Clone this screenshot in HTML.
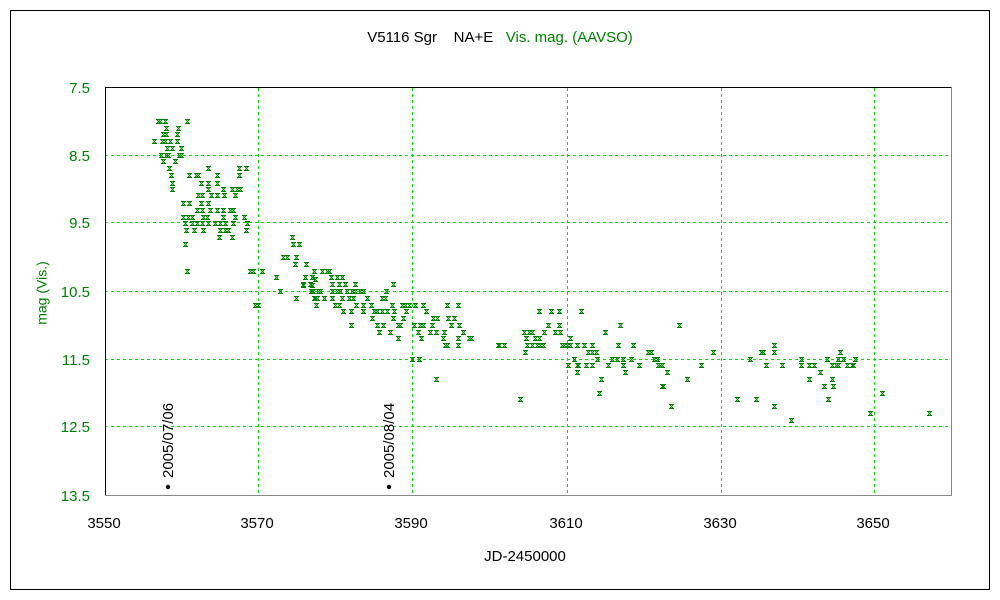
<!DOCTYPE html>
<html><head><meta charset="utf-8"><style>
body{margin:0;background:#fff;}
svg{display:block;font-family:"Liberation Sans",sans-serif;}
</style></head><body>
<svg id="s" width="1000" height="600" xmlns="http://www.w3.org/2000/svg">
<rect x="10.5" y="10.5" width="979" height="579" fill="none" stroke="#000"/>
<text x="500" y="42" text-anchor="middle" font-size="15" fill="#000">V5116 Sgr &#160;&#160; NA+E &#160;&#160;<tspan fill="#008000">Vis. mag. (AAVSO)</tspan></text>
<g stroke-dasharray="3,3" stroke-width="1" stroke="#00e000">
<line x1="105" y1="155.5" x2="951" y2="155.5"/>
<line x1="105" y1="222.5" x2="951" y2="222.5"/>
<line x1="105" y1="291.5" x2="951" y2="291.5"/>
<line x1="105" y1="359.5" x2="951" y2="359.5"/>
<line x1="105" y1="426.5" x2="951" y2="426.5"/>
<line x1="258.5" y1="88" x2="258.5" y2="495"/>
<line x1="412.5" y1="88" x2="412.5" y2="495"/>
<line x1="567.5" y1="88" x2="567.5" y2="495"/>
<line x1="721.5" y1="88" x2="721.5" y2="495"/>
<line x1="874.5" y1="88" x2="874.5" y2="495"/>
</g>
<path d="M105.5,495 V87.5 H951" fill="none" stroke="#000"/>
<path d="M951.5,87 V495.5 H105" fill="none" stroke="#888"/>
<g fill="#008000" font-size="15" text-anchor="end">
<text x="90" y="93">7.5</text><text x="90" y="161">8.5</text><text x="90" y="228">9.5</text>
<text x="90" y="297">10.5</text><text x="90" y="365">11.5</text><text x="90" y="432">12.5</text><text x="90" y="501">13.5</text>
</g>
<text x="43" y="293" fill="#008000" font-size="14" text-anchor="middle" dominant-baseline="middle" transform="rotate(-90 43 293)">mag (Vis.)</text>
<g font-size="15" text-anchor="middle" fill="#000">
<text x="104" y="528">3550</text><text x="257" y="528">3570</text><text x="411" y="528">3590</text>
<text x="566" y="528">3610</text><text x="720" y="528">3630</text><text x="873" y="528">3650</text>
<text x="525" y="561">JD-2450000</text>
</g>
<circle cx="168" cy="487" r="2.2" fill="#000"/><circle cx="389" cy="487" r="2.2" fill="#000"/>
<text transform="translate(173 478) rotate(-90)" font-size="15" fill="#000">2005/07/06</text>
<text transform="translate(394 478) rotate(-90)" font-size="15" fill="#000">2005/08/04</text>
<g id="pts" stroke="#008000" stroke-width="1" fill="none"></g>
</svg>
<script>
var R=[
[121,[158,160,165,187]],[128,[166,178]],[134,[163,166,177]],[141,[154,162,165,170,177]],
[148,[167,172,181]],[155,[161,166,168,179,181]],[161,[163,175]],[168,[169,208,239,246]],
[175,[171,189,196,198,217,239]],[183,[172,201,208,217]],[189,[172,208,223,232,237,240]],
[195,[198,202,211,217,224,235]],[203,[183,189,201,208]],[210,[197,202,210,217,223,230,233]],
[217,[183,188,192,203,207,223,235,244]],[223,[185,192,197,202,208,215,220,225,233,247]],
[230,[186,194,203,220,225,228,246]],[237,[219,232,292]],[244,[185,293,299]],[257,[283,287,296]],
[264,[295,306]],[271,[187,250,253,262]],[277,[276]],[279,[315]],[285,[303,312]],[291,[280,311,313,318]],
[298,[296,314,317]],[305,[255,258,316]],
[264,[306]],[271,[314,322,327,329]],[277,[305,312,331,337,342]],[284,[303,310,332,339,345,355,393]],
[291,[312,318,320,332,337,340,347,352,355,360,363,386]],[298,[315,317,324,332,342,349,353,367,382,385]],
[305,[316,335,339,356,363,371,392,402,405,409,415,423,447,458]],[311,[343,351,363,374,377,382,387,394,406,426]],
[318,[372,393,403,433,437,448,454]],[325,[351,377,383,398,400,414,420,423,432,451,459]],
[332,[379,390,418,430,436,444,463]],[338,[398,421,443,458,469,471]],[345,[445,447,458,498]],
[359,[412,419]],[379,[436]],
[311,[539,551,559,581]],[325,[548,559,620,679]],[332,[524,529,532,544,555,560,605]],
[338,[526,535,539,570]],[345,[499,504,527,532,537,540,543,562,564,567,570,577,584,592,618,633]],
[352,[525,588,592,596,648,651]],[359,[574,597,612,617,623,631,654,657]],
[365,[568,577,578,586,592,608,623,639,658,660,662,701]],[372,[577,625,667]],[379,[601,687]],
[386,[662,663]],[393,[599]],[399,[520]],[406,[671]],
[345,[774]],[352,[713,761,763,774,840]],[359,[750,801,827,838,843,855]],
[365,[766,782,801,809,814,832,836,838,847,852,853]],[372,[820]],[379,[809,832]],[386,[824,833]],
[393,[882]],[399,[737,756,828]],[406,[774]],[413,[870,929]],[420,[791]]];
var d="";R.forEach(function(r){r[1].forEach(function(px){var x=px+.5,y=r[0]+.5;
d+="M"+(x-2.5)+","+(y-2)+"h5M"+(x-2.5)+","+(y+2)+"h5M"+(x-1.5)+","+(y-1.5)+"l3,3M"+(x+1.5)+","+(y-1.5)+"l-3,3";});});
var pa=document.createElementNS("http://www.w3.org/2000/svg","path");pa.setAttribute("d",d);
document.getElementById("pts").appendChild(pa);
</script>
</body></html>
